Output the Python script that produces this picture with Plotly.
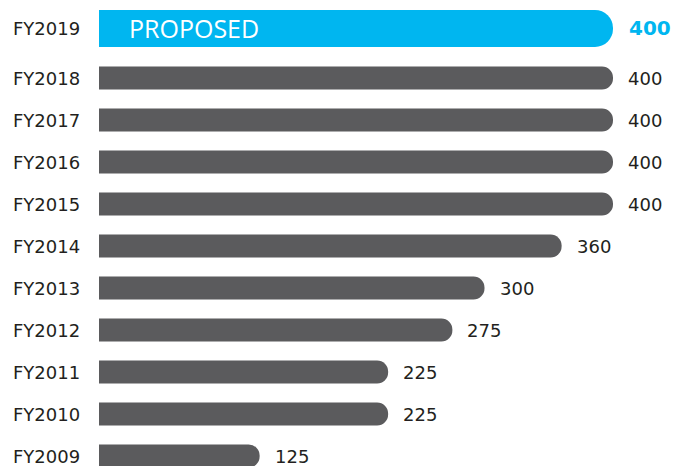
import plotly.graph_objects as go

categories = ["FY2009", "FY2010", "FY2011", "FY2012", "FY2013", "FY2014",
              "FY2015", "FY2016", "FY2017", "FY2018", "FY2019"]
values = [125, 225, 225, 275, 300, 360, 400, 400, 400, 400, 400]
proposed_label = "PROPOSED"

GRAY = "#5B5B5D"
BLUE = "#00B6F0"
TEXT = "#231F20"
FONT = "DejaVu Sans"

fig = go.Figure()

fig.add_trace(go.Bar(
    y=categories[:-1], x=values[:-1], orientation="h",
    marker=dict(color=GRAY, cornerradius="50%", line=dict(width=0)),
    width=0.55, hoverinfo="x+y", showlegend=False,
))
fig.add_trace(go.Bar(
    y=categories[-1:], x=values[-1:], orientation="h",
    marker=dict(color=BLUE, cornerradius="50%", line=dict(width=0)),
    width=0.88, offset=-0.26, hoverinfo="x+y", showlegend=False,
))

annotations = []
for i, (c, v) in enumerate(zip(categories, values)):
    last = i == len(categories) - 1
    ys = 8 if last else 0
    annotations.append(dict(
        xref="paper", x=0, yref="y", y=c, text=c, showarrow=False,
        xanchor="left", xshift=-88, yshift=ys,
        font=dict(family=FONT, size=18, color=TEXT),
    ))
    annotations.append(dict(
        xref="x", x=v, yref="y", y=c,
        text=f"<b>{v}</b>" if last else str(v), showarrow=False,
        xanchor="left", xshift=14 if last else 13, yshift=ys,
        font=dict(family=FONT, size=20 if last else 18,
                  color=BLUE if last else TEXT),
    ))
annotations.append(dict(
    xref="x", x=0, yref="y", y=categories[-1], text=proposed_label,
    showarrow=False, xanchor="left", xshift=28, yshift=8,
    font=dict(family="Open Sans", size=25, color="white"),
))

fig.update_layout(
    width=674, height=466,
    margin=dict(l=99, r=61, t=5, b=0),
    plot_bgcolor="white", paper_bgcolor="white",
    barmode="overlay",
    xaxis=dict(range=[0, 400], visible=False),
    yaxis=dict(type="category", categoryorder="array", categoryarray=categories,
               range=[-0.238, 10.738], showticklabels=False, showgrid=False,
               zeroline=False, showline=False),
    annotations=annotations,
)

fig.write_html(
    "out.html",
    config={"displayModeBar": False},
    post_script="document.body.style.margin='0';document.body.style.overflow='hidden';",
)
